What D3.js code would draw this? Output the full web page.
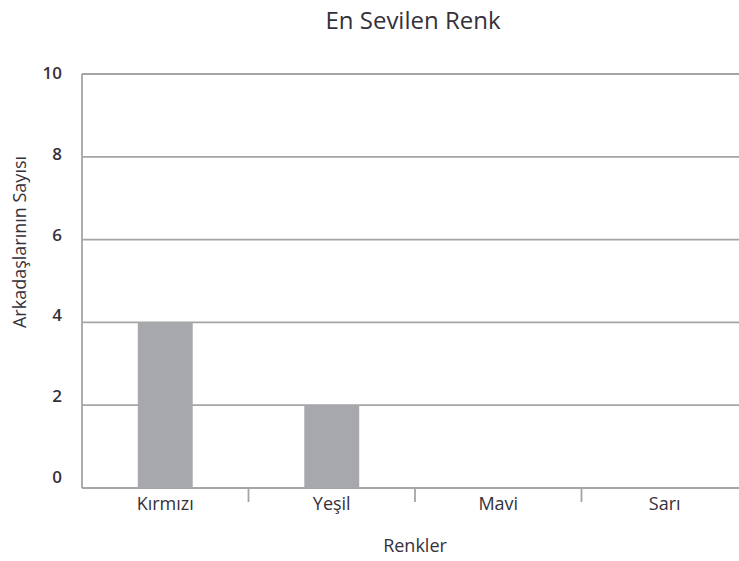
<!DOCTYPE html>
<html>
<head>
<meta charset="utf-8">
<script src="https://cdn.jsdelivr.net/npm/d3@7"></script>
<style>
  body { margin: 0; background: #fff; }
  text { font-family: "Open Sans", sans-serif; fill: #35313b; }
</style>
</head>
<body>
<div id="chart"></div>
<script>
// data
var colours = ["Kırmızı", "Yeşil", "Mavi", "Sarı"];
var friends = [4, 2, 0, 0];
var yTicks = [0, 2, 4, 6, 8, 10];

var margin = { top: 74, right: -9, bottom: 73, left: 82 };
var W = 739, H = 561;
var width = W - margin.left - margin.right;
var height = H - margin.top - margin.bottom;

var svg = d3.select("#chart")
    .append("svg")
    .attr("width", W)
    .attr("height", H)
    .append("g")
    .attr("transform", "translate(" + margin.left + "," + margin.top + ")");

var x_scale = d3.scaleBand()
    .domain(colours)
    .range([0, width])
    .paddingInner(0.67)
    .paddingOuter(0.335);

var band = d3.scaleBand().domain(colours).range([0, width]);

var y_scale = d3.scaleLinear()
    .domain([0, 10])
    .range([height, 0]);

// tick labels sit on a slightly tighter scale than the grid
var label_scale = d3.scaleLinear()
    .domain([0, 10])
    .range([height - 10, 0]);

// grid lines
svg.append("g")
    .selectAll("line")
    .data(yTicks)
    .enter()
    .append("line")
    .attr("x1", 0)
    .attr("x2", width)
    .attr("y1", function (d) { return y_scale(d); })
    .attr("y2", function (d) { return y_scale(d); })
    .attr("stroke", "#a5a5a8")
    .attr("stroke-width", 1.8);

// bars
svg.selectAll(".bar")
    .data(friends)
    .enter()
    .append("rect")
    .attr("class", "bar")
    .attr("x", function (d, i) { return x_scale(colours[i]); })
    .attr("width", x_scale.bandwidth())
    .attr("y", function (d) { return y_scale(d); })
    .attr("height", function (d) { return height - y_scale(d); })
    .attr("fill", "#a7a8ab");

// left axis line
svg.append("line")
    .attr("x1", 0).attr("x2", 0)
    .attr("y1", y_scale(10)).attr("y2", height)
    .attr("stroke", "#a5a5a8")
    .attr("stroke-width", 1.8);

// x axis: category separators
svg.append("g")
    .selectAll("line")
    .data(colours.slice(1))
    .enter()
    .append("line")
    .attr("x1", function (d) { return band(d); })
    .attr("x2", function (d) { return band(d); })
    .attr("y1", height)
    .attr("y2", height + 14)
    .attr("stroke", "#a5a5a8")
    .attr("stroke-width", 1.8);

svg.append("g")
    .selectAll("text")
    .data(colours)
    .enter()
    .append("text")
    .attr("x", function (d) { return band(d) + band.bandwidth() / 2; })
    .attr("y", height + 22)
    .attr("text-anchor", "middle")
    .style("font-size", "18px")
    .text(function (d) { return d; });

// y tick labels
svg.append("g")
    .selectAll("text")
    .data(yTicks)
    .enter()
    .append("text")
    .attr("x", -20)
    .attr("y", function (d) { return label_scale(d) - 1; })
    .attr("dy", "0.35em")
    .attr("text-anchor", "end")
    .style("font-size", "17px")
    .style("font-weight", "600")
    .text(function (d) { return d; });

// titles
svg.append("text")
    .attr("x", 413 - margin.left)
    .attr("y", 29 - margin.top)
    .attr("text-anchor", "middle")
    .style("font-size", "24px")
    .text("En Sevilen Renk");

svg.append("text")
    .attr("transform", "translate(" + (415 - margin.left) + "," + (552 - margin.top) + ")")
    .attr("text-anchor", "middle")
    .style("font-size", "18px")
    .text("Renkler");

svg.append("text")
    .attr("transform", "translate(" + (26 - margin.left) + "," + (242 - margin.top) + ") rotate(-90)")
    .attr("text-anchor", "middle")
    .style("font-size", "18px")
    .text("Arkadaşlarının Sayısı");
</script>
</body>
</html>
